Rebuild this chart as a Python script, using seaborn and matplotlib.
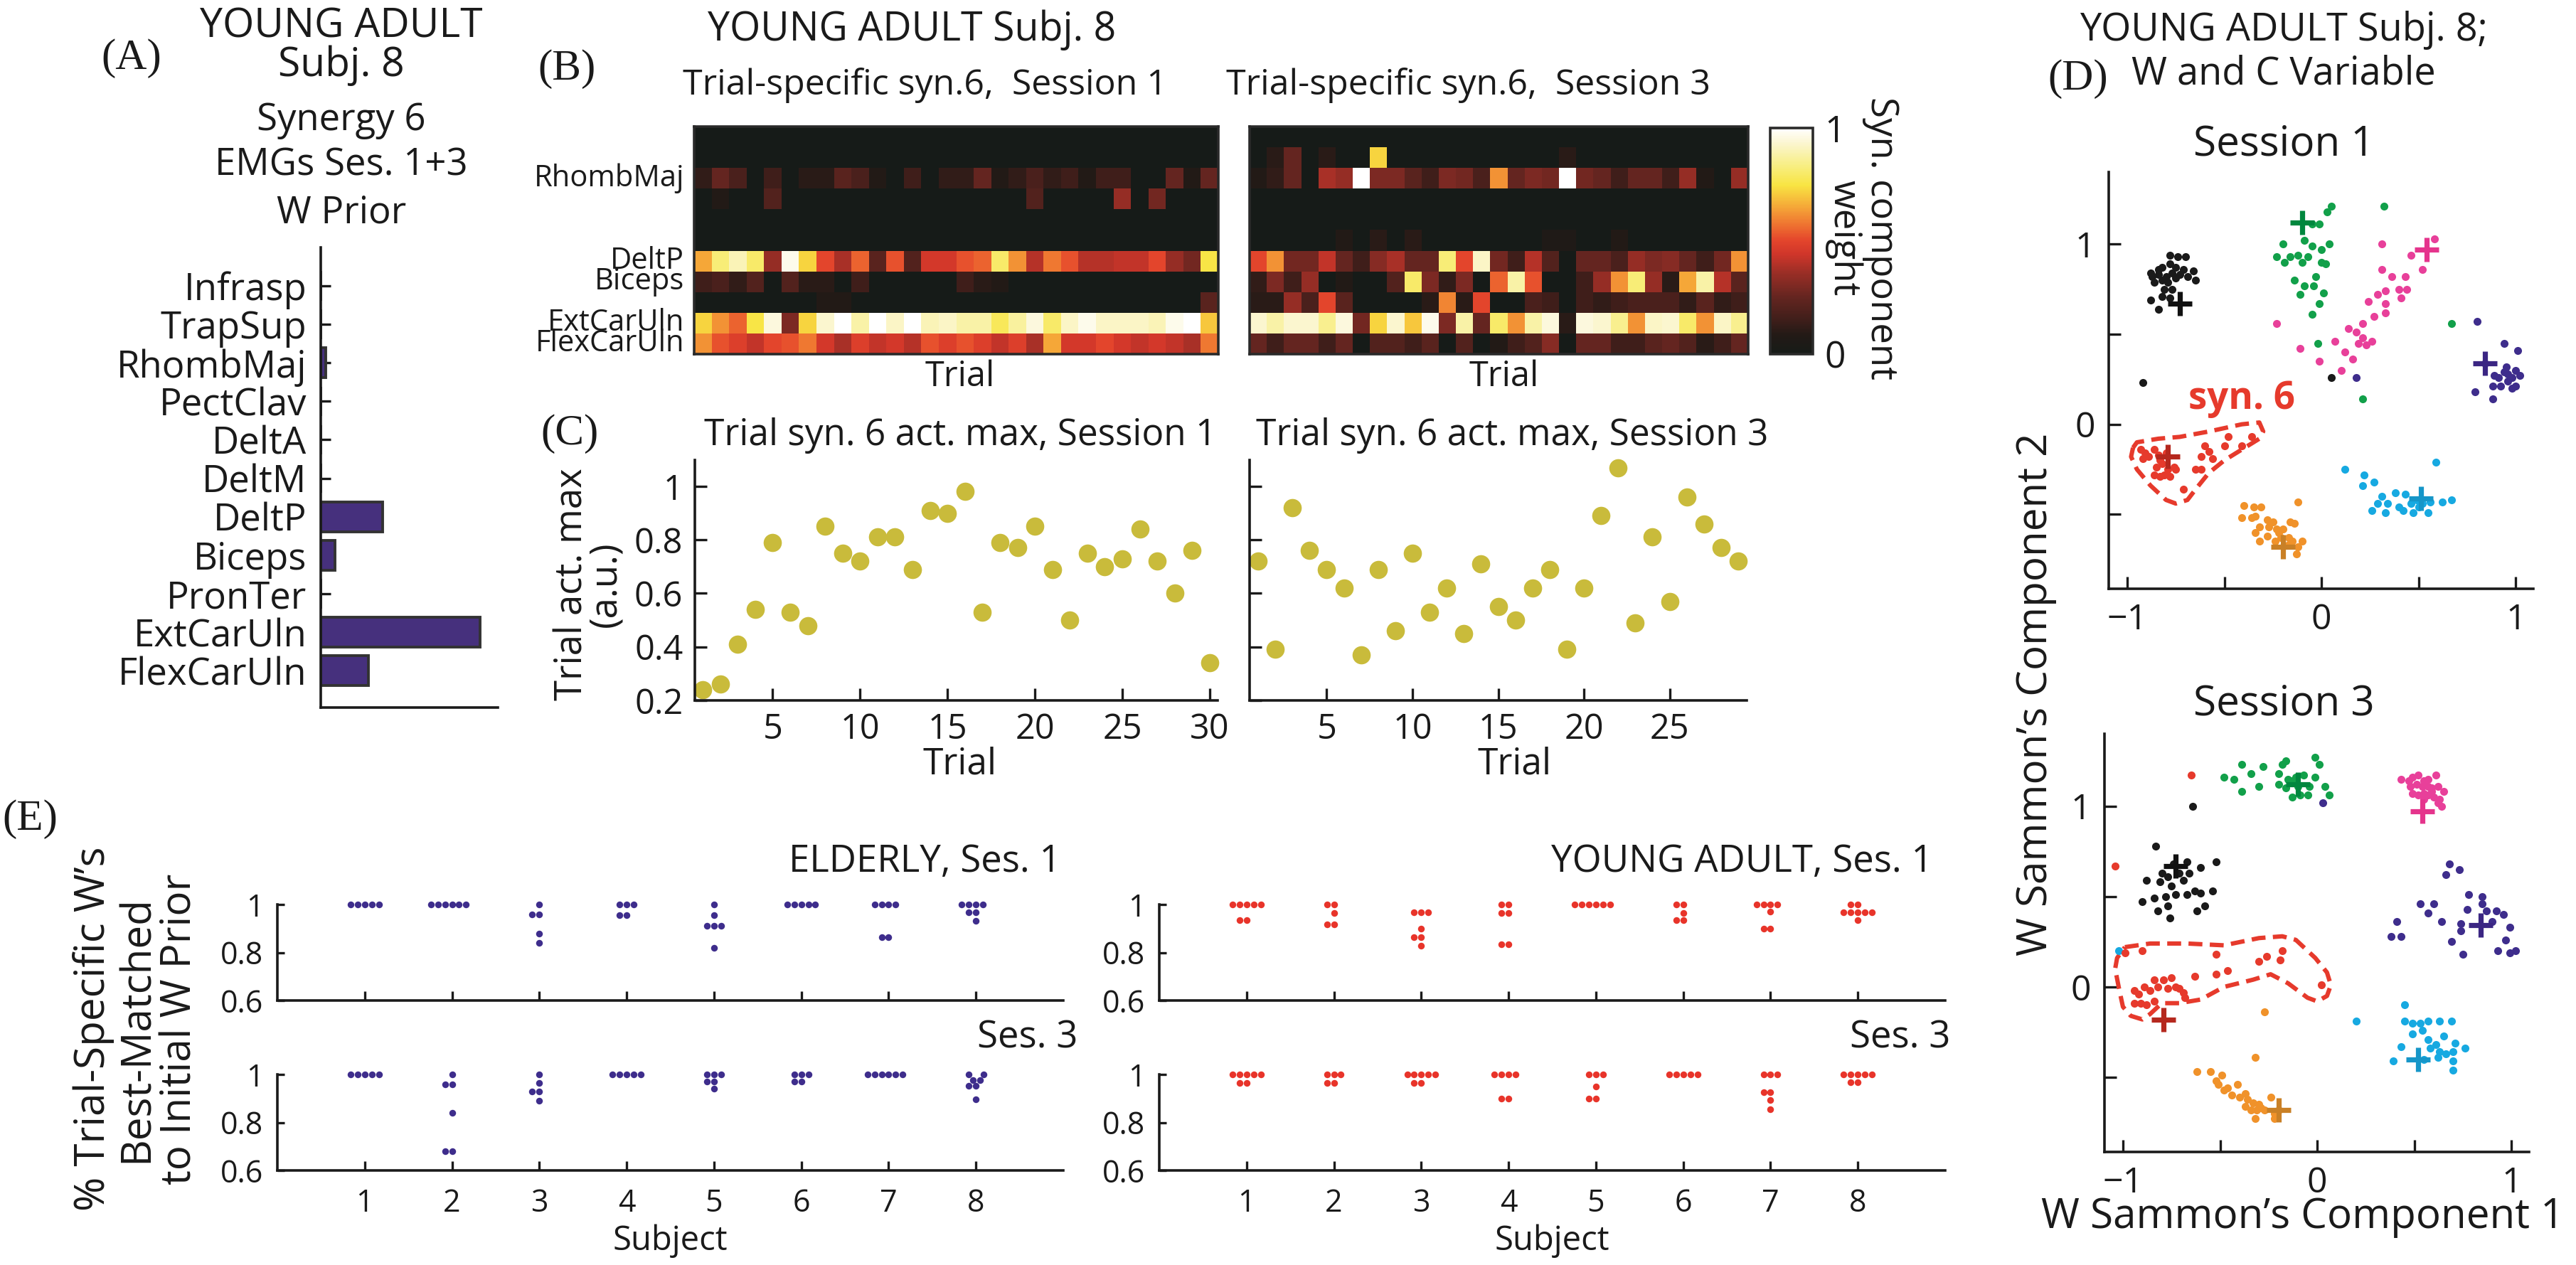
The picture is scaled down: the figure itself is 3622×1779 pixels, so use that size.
import numpy as np
import pandas as pd
import matplotlib
matplotlib.use("Agg")
import matplotlib.pyplot as plt
import seaborn as sns
from matplotlib.colors import LinearSegmentedColormap

# ---------------- DATA ----------------
MUSCLES = ["Infrasp", "TrapSup", "RhombMaj", "PectClav", "DeltA", "DeltM",
           "DeltP", "Biceps", "PronTer", "ExtCarUln", "FlexCarUln"]
W_PRIOR = [0.0, 0.0, 0.03, 0.0, 0.0, 0.0, 0.35, 0.08, 0.0, 0.90, 0.27]
HEAT_LABELS = ["", "", "RhombMaj", "", "", "", "DeltP", "Biceps", "", "ExtCarUln", "FlexCarUln"]

# trial-specific synergy 6, session 1 (11 muscles x 30 trials)
HEAT_S1 = [
    [0, 0, 0, 0, 0, 0, 0, 0, 0, 0, 0, 0, 0, 0, 0, 0, 0, 0, 0, 0, 0, 0, 0, 0, 0, 0, 0, 0, 0, 0],
    [0, 0, 0, 0, 0, 0, 0, 0, 0, 0, 0, 0, 0, 0, 0, 0, 0, 0, 0, 0, 0, 0, 0, 0, 0, 0, 0, 0, 0, 0],
    [0.12, 0.25, 0.18, 0, 0.15, 0, 0.1, 0.1, 0.22, 0.18, 0.08, 0, 0.15, 0, 0.12, 0.12, 0.25, 0.08, 0.12, 0.18,
     0.12, 0.15, 0.08, 0.15, 0.15, 0, 0, 0.25, 0.08, 0.25],
    [0, 0.08, 0, 0, 0.2, 0, 0, 0, 0, 0, 0, 0, 0, 0, 0, 0, 0, 0, 0, 0.2, 0, 0, 0, 0, 0.35, 0, 0.28, 0, 0, 0],
    [0, 0, 0, 0, 0, 0, 0, 0, 0, 0, 0, 0, 0, 0, 0, 0, 0, 0, 0, 0, 0, 0, 0, 0, 0, 0, 0, 0, 0, 0],
    [0, 0, 0, 0, 0, 0, 0, 0, 0, 0, 0, 0, 0, 0, 0, 0, 0, 0, 0, 0, 0, 0, 0, 0, 0, 0, 0, 0, 0, 0],
    [0.65, 0.82, 0.9, 0.8, 0.35, 0.97, 0.72, 0.5, 0.38, 0.55, 0.22, 0.52, 0.2, 0.45, 0.45, 0.52, 0.55, 0.8, 0.62, 0.4,
     0.58, 0.52, 0.4, 0.4, 0.42, 0.42, 0.5, 0.35, 0.28, 0.75],
    [0.15, 0.18, 0.12, 0.2, 0, 0.2, 0.1, 0.1, 0, 0.15, 0, 0, 0, 0, 0, 0.15, 0.1, 0.08, 0, 0,
     0, 0, 0, 0, 0, 0, 0, 0, 0, 0],
    [0, 0, 0, 0, 0, 0, 0, 0.08, 0.08, 0, 0, 0, 0, 0, 0, 0, 0, 0, 0, 0, 0, 0, 0, 0, 0, 0, 0, 0, 0, 0.22],
    [0.72, 0.62, 0.55, 0.75, 0.95, 0.3, 0.72, 0.93, 1.0, 0.88, 1.0, 0.92, 1.0, 0.9, 0.92, 0.88, 0.88, 0.78, 0.87, 0.95,
     0.8, 0.92, 0.97, 0.92, 0.92, 0.92, 0.9, 0.97, 1.0, 0.7],
    [0.62, 0.52, 0.48, 0.42, 0.5, 0.52, 0.58, 0.45, 0.38, 0.48, 0.42, 0.45, 0.4, 0.52, 0.48, 0.52, 0.48, 0.42, 0.48, 0.38,
     0.65, 0.45, 0.45, 0.5, 0.45, 0.42, 0.45, 0.42, 0.38, 0.58],
]

# trial-specific synergy 6, session 3 (11 muscles x 29 trials)
HEAT_S3 = [
    [0, 0, 0, 0, 0, 0, 0, 0, 0, 0, 0, 0, 0, 0, 0, 0, 0, 0, 0, 0, 0, 0, 0, 0, 0, 0, 0, 0, 0],
    [0, 0.1, 0.25, 0, 0.1, 0, 0, 0.72, 0, 0, 0, 0, 0, 0, 0, 0, 0, 0, 0.1, 0, 0, 0, 0, 0, 0, 0, 0, 0, 0],
    [0.08, 0.12, 0.25, 0, 0.38, 0.35, 1.0, 0.3, 0.3, 0.22, 0.15, 0.3, 0.28, 0.18, 0.62, 0.25, 0.3, 0.28, 1.0, 0.28,
     0.25, 0.15, 0.25, 0.25, 0.15, 0.35, 0.08, 0, 0.35],
    [0, 0, 0, 0, 0, 0, 0, 0, 0, 0, 0, 0, 0, 0, 0, 0, 0, 0, 0, 0, 0, 0, 0, 0, 0, 0, 0, 0, 0],
    [0, 0, 0, 0, 0, 0, 0, 0, 0, 0, 0, 0, 0, 0, 0, 0, 0, 0, 0, 0, 0, 0, 0, 0, 0, 0, 0, 0, 0],
    [0, 0, 0, 0, 0, 0.08, 0, 0.1, 0, 0.1, 0, 0, 0, 0, 0, 0, 0, 0.06, 0.06, 0, 0, 0.08, 0, 0, 0, 0, 0, 0, 0],
    [0.5, 0.62, 0.28, 0.28, 0.42, 0.25, 0.15, 0.32, 0.38, 0.25, 0.25, 0.82, 0.5, 0.92, 0.28, 0.15, 0.4, 0.2, 0, 0.25,
     0.25, 0.18, 0.35, 0.3, 0.32, 0.25, 0.15, 0.28, 0.62],
    [0.12, 0.3, 0.15, 0.35, 0, 0.08, 0, 0, 0.2, 0.8, 0.3, 0.12, 0.3, 0, 0.55, 0.88, 0.52, 0, 0, 0.15,
     0.35, 0.62, 0.82, 0.35, 0.1, 0.65, 0.88, 0.4, 0.22],
    [0.1, 0.1, 0.35, 0.18, 0.5, 0.22, 0, 0, 0, 0, 0.1, 0.6, 0.1, 0.5, 0, 0, 0.18, 0.15, 0, 0.15,
     0.12, 0.15, 0.18, 0.18, 0.18, 0.12, 0.22, 0.12, 0.15],
    [0.93, 0.88, 0.93, 0.93, 0.85, 0.95, 0.28, 0.72, 0.93, 0.7, 0.97, 0.3, 0.88, 0.25, 0.8, 0.62, 0.88, 0.95, 0.1, 0.95,
     0.93, 0.85, 0.62, 0.92, 0.93, 0.8, 0.62, 0.92, 0.85],
    [0.25, 0.15, 0.25, 0.25, 0.15, 0.25, 0, 0.2, 0.2, 0.15, 0.22, 0, 0.2, 0, 0.08, 0.15, 0.2, 0.32, 0, 0.25,
     0.25, 0.15, 0.15, 0.22, 0.25, 0.2, 0.1, 0.15, 0.25],
]

# trial activation max
TRIALS_S1 = list(range(1, 31))
ACT_S1 = [0.24, 0.26, 0.41, 0.54, 0.79, 0.53, 0.48, 0.85, 0.75, 0.72, 0.81, 0.81, 0.69, 0.91, 0.90,
          0.98, 0.53, 0.79, 0.77, 0.85, 0.69, 0.50, 0.75, 0.70, 0.73, 0.84, 0.72, 0.60, 0.76, 0.34]
TRIALS_S3 = list(range(1, 30))
ACT_S3 = [0.72, 0.39, 0.92, 0.76, 0.69, 0.62, 0.37, 0.69, 0.46, 0.75, 0.53, 0.62, 0.45, 0.71, 0.55,
          0.50, 0.62, 0.69, 0.39, 0.62, 0.89, 1.07, 0.49, 0.81, 0.57, 0.96, 0.86, 0.77, 0.72]

# Sammon projection, session 1 (x, y)
S1_BLACK = [(-0.78, 0.94), (-0.74, 0.93), (-0.70, 0.93), (-0.88, 0.84), (-0.84, 0.86), (-0.82, 0.87),
            (-0.78, 0.89), (-0.75, 0.87), (-0.71, 0.86), (-0.66, 0.85), (-0.87, 0.82), (-0.84, 0.83),
            (-0.80, 0.82), (-0.77, 0.84), (-0.73, 0.83), (-0.69, 0.82), (-0.65, 0.80), (-0.86, 0.79),
            (-0.82, 0.80), (-0.79, 0.79), (-0.75, 0.81), (-0.81, 0.75), (-0.77, 0.75), (-0.88, 0.69),
            (-0.82, 0.71), (-0.84, 0.64), (-0.78, 0.70), (-0.92, 0.23), (0.05, 0.26)]
S1_GREEN = [(0.05, 1.21), (0.03, 1.18), (0.32, 1.21), (-0.01, 1.11), (-0.05, 1.11), (-0.20, 1.00),
            (-0.09, 1.02), (-0.05, 0.99), (0.00, 0.97), (0.04, 1.00), (-0.23, 0.93), (-0.19, 0.90),
            (-0.16, 0.93), (-0.12, 0.94), (-0.07, 0.93), (-0.10, 0.90), (0.00, 0.90), (0.02, 0.89),
            (-0.14, 0.80), (-0.09, 0.77), (-0.03, 0.82), (-0.04, 0.77), (-0.11, 0.72), (0.01, 0.73),
            (-0.01, 0.67), (-0.05, 0.61), (0.67, 0.56), (-0.02, 0.45), (0.21, 0.14)]
S1_MAGENTA = [(0.58, 1.03), (0.46, 0.94), (0.52, 0.86), (0.31, 1.00), (0.31, 0.86), (0.36, 0.82),
              (0.43, 0.82), (0.40, 0.75), (0.44, 0.75), (0.41, 0.70), (0.29, 0.72), (0.33, 0.74),
              (0.24, 0.68), (0.33, 0.67), (0.27, 0.60), (0.33, 0.62), (0.21, 0.56), (0.14, 0.53),
              (0.18, 0.51), (0.21, 0.48), (0.19, 0.45), (0.23, 0.44), (0.26, 0.46), (0.07, 0.46),
              (0.12, 0.40), (0.16, 0.36), (0.10, 0.30), (-0.01, 0.35), (-0.11, 0.42), (-0.23, 0.56)]
S1_PURPLE = [(0.80, 0.57), (0.94, 0.45), (1.01, 0.41), (0.84, 0.34), (0.89, 0.27), (0.91, 0.26),
             (0.94, 0.29), (0.96, 0.28), (0.98, 0.26), (1.00, 0.30), (1.02, 0.27), (0.95, 0.32),
             (0.92, 0.21), (0.98, 0.20), (1.00, 0.21), (0.88, 0.21), (0.79, 0.18), (0.88, 0.14),
             (0.96, 0.24), (0.18, 0.26)]
S1_CYAN = [(0.12, -0.25), (0.59, -0.21), (0.22, -0.28), (0.27, -0.32), (0.21, -0.34), (0.31, -0.40),
           (0.29, -0.44), (0.34, -0.44), (0.38, -0.38), (0.43, -0.39), (0.40, -0.46), (0.46, -0.44),
           (0.49, -0.42), (0.52, -0.44), (0.56, -0.43), (0.55, -0.49), (0.47, -0.49), (0.42, -0.48),
           (0.26, -0.48), (0.33, -0.49), (0.62, -0.43), (0.67, -0.42), (0.50, -0.46)]
S1_ORANGE = [(-0.40, -0.45), (-0.35, -0.46), (-0.31, -0.46), (-0.12, -0.43), (-0.41, -0.52), (-0.36, -0.52),
             (-0.34, -0.51), (-0.28, -0.53), (-0.25, -0.54), (-0.16, -0.54), (-0.14, -0.55), (-0.32, -0.57),
             (-0.27, -0.57), (-0.23, -0.58), (-0.20, -0.58), (-0.34, -0.60), (-0.28, -0.62), (-0.22, -0.60),
             (-0.17, -0.63), (-0.32, -0.65), (-0.24, -0.65), (-0.21, -0.63), (-0.15, -0.65), (-0.10, -0.65),
             (-0.12, -0.68), (-0.17, -0.67), (-0.13, -0.72)]
S1_RED = [(-0.93, -0.14), (-0.91, -0.16), (-0.92, -0.19), (-0.89, -0.18), (-0.86, -0.14), (-0.84, -0.17),
          (-0.83, -0.20), (-0.80, -0.16), (-0.82, -0.22), (-0.85, -0.24), (-0.79, -0.25), (-0.76, -0.24),
          (-0.75, -0.25), (-0.81, -0.28), (-0.78, -0.29), (-0.86, -0.28), (-0.83, -0.29), (-0.60, -0.12),
          (-0.58, -0.15), (-0.62, -0.18), (-0.65, -0.25), (-0.62, -0.25), (-0.71, -0.36), (-0.56, -0.19),
          (-0.50, -0.12), (-0.48, -0.07), (-0.36, -0.07), (-0.41, -0.12)]
S1_PRIOR = [(-0.73, 0.67), (-0.10, 1.12), (0.54, 0.97), (0.84, 0.34), (0.51, -0.41), (-0.20, -0.68), (-0.79, -0.18)]
S1_OUTLINE = [(-0.97, -0.13), (-0.95, -0.10), (-0.84, -0.08), (-0.73, -0.07), (-0.58, -0.04), (-0.41, 0.00),
              (-0.32, 0.01), (-0.30, -0.04), (-0.32, -0.08), (-0.41, -0.14), (-0.50, -0.20), (-0.58, -0.27),
              (-0.64, -0.35), (-0.69, -0.42), (-0.75, -0.44), (-0.80, -0.42), (-0.88, -0.34), (-0.95, -0.25),
              (-0.98, -0.18), (-0.97, -0.13)]

# Sammon projection, session 3 (x, y)
S3_BLACK = [(-0.64, 1.00), (-0.83, 0.78), (-0.52, 0.69), (-0.74, 0.68), (-0.67, 0.69), (-0.80, 0.63),
            (-0.71, 0.63), (-0.66, 0.63), (-0.60, 0.66), (-0.88, 0.59), (-0.81, 0.58), (-0.77, 0.61),
            (-0.75, 0.56), (-0.69, 0.59), (-0.73, 0.51), (-0.67, 0.51), (-0.63, 0.53), (-0.60, 0.52),
            (-0.54, 0.53), (-0.84, 0.49), (-0.78, 0.50), (-0.90, 0.47), (-0.77, 0.45), (-0.58, 0.45),
            (-0.82, 0.42), (-0.62, 0.42), (-0.76, 0.38)]
S3_GREEN = [(-0.48, 1.16), (-0.43, 1.15), (-0.39, 1.08), (-0.39, 1.23), (-0.34, 1.18), (-0.30, 1.11),
            (-0.28, 1.22), (-0.20, 1.18), (-0.18, 1.23), (-0.16, 1.25), (-0.15, 1.15), (-0.20, 1.12),
            (-0.16, 1.10), (-0.13, 1.05), (-0.11, 1.16), (-0.09, 1.06), (-0.07, 1.17), (-0.05, 1.06),
            (-0.04, 1.11), (-0.01, 1.16), (-0.01, 1.27), (0.01, 1.23), (0.04, 1.11), (0.06, 1.06),
            (-0.13, 1.14), (-0.10, 1.11)]
S3_MAGENTA = [(0.43, 1.15), (0.47, 1.14), (0.49, 1.16), (0.52, 1.17), (0.55, 1.14), (0.57, 1.15),
              (0.61, 1.17), (0.48, 1.11), (0.51, 1.12), (0.54, 1.11), (0.57, 1.11), (0.59, 1.10),
              (0.62, 1.11), (0.65, 1.08), (0.49, 1.07), (0.52, 1.06), (0.55, 1.07), (0.57, 1.06),
              (0.60, 1.05), (0.63, 1.04), (0.62, 1.02), (0.64, 1.00), (0.59, 1.08), (0.55, 1.04)]
S3_PURPLE = [(0.68, 0.68), (0.73, 0.65), (0.66, 0.62), (0.53, 0.46), (0.60, 0.46), (0.57, 0.41),
             (0.64, 0.36), (0.41, 0.36), (0.38, 0.28), (0.43, 0.28), (0.69, 0.25), (0.75, 0.18),
             (0.78, 0.51), (0.85, 0.50), (0.85, 0.46), (0.77, 0.43), (0.87, 0.42), (0.92, 0.42),
             (0.96, 0.40), (0.90, 0.36), (0.74, 0.35), (0.74, 0.31), (0.99, 0.33), (0.97, 0.26),
             (0.93, 0.20), (0.99, 0.19), (1.02, 0.20), (0.03, 1.02)]
S3_CYAN = [(0.45, -0.10), (0.20, -0.19), (0.45, -0.19), (0.49, -0.20), (0.53, -0.20), (0.57, -0.19),
           (0.63, -0.19), (0.69, -0.19), (0.54, -0.24), (0.49, -0.26), (0.57, -0.29), (0.65, -0.27),
           (0.61, -0.32), (0.71, -0.31), (0.43, -0.33), (0.58, -0.34), (0.63, -0.36), (0.66, -0.37),
           (0.70, -0.36), (0.76, -0.34), (0.62, -0.39), (0.70, -0.41), (0.39, -0.41), (0.70, -0.46),
           (-1.02, 0.20), (0.55, -0.40)]
S3_ORANGE = [(-0.27, -0.14), (-0.32, -0.39), (-0.62, -0.47), (-0.55, -0.47), (-0.49, -0.49), (-0.52, -0.52),
             (-0.51, -0.54), (-0.48, -0.57), (-0.46, -0.56), (-0.41, -0.54), (-0.44, -0.60), (-0.40, -0.61),
             (-0.37, -0.59), (-0.36, -0.62), (-0.37, -0.66), (-0.33, -0.64), (-0.34, -0.68), (-0.30, -0.65),
             (-0.29, -0.67), (-0.27, -0.68), (-0.24, -0.61), (-0.22, -0.70), (-0.22, -0.73), (-0.32, -0.73),
             (-0.31, -0.68), (-0.20, -0.68)]
S3_RED = [(-0.65, 1.17), (-1.04, 0.67), (-0.99, 0.19), (-0.90, 0.20), (-0.94, -0.02), (-0.92, -0.04),
          (-0.89, 0.00), (-0.86, -0.02), (-0.84, 0.04), (-0.82, 0.00), (-0.79, 0.04), (-0.77, -0.01),
          (-0.75, 0.05), (-0.73, 0.00), (-0.71, -0.01), (-0.69, -0.03), (-0.68, -0.06), (-0.94, -0.09),
          (-0.91, -0.09), (-0.88, -0.10), (-0.84, -0.08), (-0.52, 0.18), (-0.63, 0.06), (-0.52, 0.07),
          (-0.46, 0.09), (-0.30, 0.14), (-0.26, 0.17), (-0.19, 0.15), (-0.18, 0.20), (0.02, 0.01)]
S3_PRIOR = [(-0.73, 0.67), (-0.10, 1.12), (0.54, 0.97), (0.84, 0.34), (0.52, -0.40), (-0.20, -0.68), (-0.79, -0.18)]
S3_OUTLINE = [(-0.99, 0.22), (-0.86, 0.24), (-0.67, 0.24), (-0.48, 0.23), (-0.30, 0.27), (-0.18, 0.28),
              (-0.11, 0.26), (-0.01, 0.16), (0.05, 0.08), (0.07, 0.01), (0.05, -0.05), (0.00, -0.08),
              (-0.05, -0.06), (-0.15, 0.02), (-0.24, 0.07), (-0.33, 0.04), (-0.48, 0.00), (-0.60, -0.07),
              (-0.71, -0.09), (-0.80, -0.09), (-0.86, -0.15), (-0.90, -0.18), (-0.96, -0.16), (-1.00, -0.11),
              (-1.02, -0.01), (-1.04, 0.10), (-1.03, 0.16), (-0.99, 0.22)]

# fraction of trial-specific W's best-matched to initial W prior, per subject
SUBJECTS = [1, 2, 3, 4, 5, 6, 7, 8]
ELD_S1 = [[1, 1, 1, 1, 1], [1, 1, 1, 1, 1, 1], [1.0, 0.96, 0.96, 0.88, 0.84], [1, 1, 1, 0.955, 0.955],
          [1.0, 0.955, 0.91, 0.91, 0.91, 0.82], [1, 1, 1, 1, 1], [1, 1, 1, 1, 0.865, 0.865],
          [1, 1, 1, 1, 0.967, 0.967, 0.933]]
ELD_S3 = [[1, 1, 1, 1, 1], [1.0, 0.96, 0.96, 0.84, 0.68, 0.68], [1.0, 0.965, 0.93, 0.93, 0.89],
          [1, 1, 1, 1, 1], [1, 1, 1, 0.97, 0.97, 0.94], [1, 1, 1, 0.97, 0.97], [1, 1, 1, 1, 1, 1],
          [1, 1, 0.977, 0.977, 0.952, 0.952, 0.897]]
YA_S1 = [[1, 1, 1, 1, 1, 0.935, 0.935], [1, 1, 0.965, 0.918, 0.918],
         [0.967, 0.967, 0.967, 0.9, 0.865, 0.865, 0.827], [1, 1, 0.965, 0.965, 0.835, 0.835],
         [1, 1, 1, 1, 1, 1], [1, 1, 0.965, 0.935, 0.935], [1, 1, 1, 1, 0.97, 0.9, 0.9],
         [1, 1, 0.967, 0.967, 0.967, 0.967, 0.967, 0.935]]
YA_S3 = [[1, 1, 1, 1, 1, 0.965, 0.965], [1, 1, 1, 0.965, 0.965], [1, 1, 1, 1, 1, 0.965, 0.965],
         [1, 1, 1, 1, 0.9, 0.9], [1, 1, 1, 0.95, 0.9, 0.9], [1, 1, 1, 1, 1],
         [1, 1, 1, 0.927, 0.927, 0.893, 0.855], [1, 1, 1, 1, 1, 0.967, 0.967]]

# ---------------- STYLE ----------------
W, H, DPI = 3622, 1779, 200
sns.set_theme(style="ticks")
plt.rcParams["font.family"] = ["Open Sans", "DejaVu Sans"]
plt.rcParams["axes.linewidth"] = 1.3
plt.rcParams["axes.edgecolor"] = "#1a1a1a"
plt.rcParams["xtick.direction"] = "in"
plt.rcParams["ytick.direction"] = "in"
plt.rcParams["xtick.color"] = "#1a1a1a"
plt.rcParams["ytick.color"] = "#1a1a1a"
SERIF = ["Liberation Serif", "DejaVu Serif"]

fig = plt.figure(figsize=(W / DPI, H / DPI), dpi=DPI, facecolor="white")


def add_ax(x0, y0, x1, y1):
    return fig.add_axes([x0 / W, 1 - y1 / H, (x1 - x0) / W, (y1 - y0) / H])


def ftext(x, y, s, size=18, **kw):
    kw.setdefault("ha", "center")
    kw.setdefault("va", "center")
    fig.text(x / W, 1 - y / H, s, fontsize=size, color="#1a1a1a", **kw)


# ---------------- (A) W prior ----------------
axA = add_ax(451, 348, 700, 995)
sns.barplot(x=W_PRIOR, y=MUSCLES, orient="h", color="#46307d", saturation=1,
            edgecolor="#333333", linewidth=1.4, width=0.77, ax=axA)
axA.set_xlim(0, 1)
axA.set_ylim(10.96, -1.0)
axA.set_xticks([])
axA.set_xlabel("")
axA.set_ylabel("")
axA.tick_params(axis="y", length=5, width=1.2, labelsize=19, pad=7)
sns.despine(ax=axA)

ftext(185, 82, "(A)", size=22, family=SERIF)
ftext(480, 38, "YOUNG ADULT", size=20.5)
ftext(480, 92, "Subj. 8", size=20.5)
ftext(480, 169, "Synergy 6", size=19)
ftext(480, 233, "EMGs Ses. 1+3", size=19)
ftext(480, 300, "W Prior", size=19)

# ---------------- (B) heatmaps ----------------
cmap = LinearSegmentedColormap.from_list("synw", [
    (0.0, "#161b18"), (0.084, "#231a16"), (0.147, "#3e1e1a"), (0.253, "#652520"),
    (0.358, "#9a2e26"), (0.442, "#d0362a"), (0.505, "#e4462c"), (0.568, "#ee7030"),
    (0.653, "#f5a838"), (0.747, "#f8e442"), (0.832, "#f8ee80"), (0.937, "#fbf6d2"),
    (1.0, "#ffffff")])

axB1 = add_ax(976, 178, 1713, 498)
axB2 = add_ax(1757, 178, 2458, 498)
cax = add_ax(2489, 180, 2549, 498)
sns.heatmap(pd.DataFrame(HEAT_S1, index=MUSCLES), cmap=cmap, vmin=0, vmax=1, cbar=False,
            xticklabels=False, yticklabels=HEAT_LABELS, ax=axB1)
sns.heatmap(pd.DataFrame(HEAT_S3, index=MUSCLES), cmap=cmap, vmin=0, vmax=1, cbar=True,
            cbar_ax=cax, xticklabels=False, yticklabels=False, ax=axB2)
for ax, n in ((axB1, 30), (axB2, 29)):
    for sp in ax.spines.values():
        sp.set_visible(True)
        sp.set_color("#2a2a2a")
        sp.set_linewidth(1.3)
    ax.set_xticks([t - 0.5 for t in range(5, n + 1, 5)])
    ax.set_xticklabels([])
    ax.tick_params(axis="x", length=4, top=True, bottom=True, color="#555555")
    ax.set_ylabel("")
axB1.tick_params(axis="y", length=0, labelsize=15, pad=5, rotation=0)
cbar = axB2.collections[0].colorbar
cbar.set_ticks([0, 1])
cbar.set_ticklabels(["0", "1"])
cbar.ax.tick_params(labelsize=18.5, length=0, pad=6)
cbar.outline.set_edgecolor("#2a2a2a")
cbar.outline.set_linewidth(1.3)

ftext(797, 97, "(B)", size=22, family=SERIF)
ftext(1282, 42, "YOUNG ADULT Subj. 8", size=20)
ftext(1300, 120, "Trial-specific syn.6,  Session 1", size=18)
ftext(2065, 120, "Trial-specific syn.6,  Session 3", size=18)
ftext(1350, 530, "Trial", size=17.5)
ftext(2115, 530, "Trial", size=17.5)
ftext(2645, 335, "Syn. component", size=19, rotation=270)
ftext(2592, 335, "weight", size=19, rotation=270)

# ---------------- (C) activation max ----------------
axC1 = add_ax(977, 647, 1712, 985)
axC2 = add_ax(1757, 647, 2456, 985)
sns.scatterplot(x=TRIALS_S1, y=ACT_S1, color="#c9bb3b", s=85, linewidth=0, ax=axC1, clip_on=False)
sns.scatterplot(x=TRIALS_S3, y=ACT_S3, color="#c9bb3b", s=85, linewidth=0, ax=axC2, clip_on=False)
axC1.set_xlim(0.55, 30.45)
axC2.set_xlim(0.5, 29.5)
for ax, n in ((axC1, 30), (axC2, 29)):
    ax.set_ylim(0.2, 1.098)
    ax.set_xticks(list(range(5, n + 1, 5)))
    ax.set_yticks([0.2, 0.4, 0.6, 0.8, 1.0])
    ax.tick_params(length=6, width=1.2, labelsize=17.5, pad=6)
    sns.despine(ax=ax)
axC1.set_yticklabels(["0.2", "0.4", "0.6", "0.8", "1"])
axC2.set_yticklabels([])

ftext(801, 610, "(C)", size=22, family=SERIF)
ftext(1350, 613, "Trial syn. 6 act. max, Session 1", size=18.5)
ftext(2126, 613, "Trial syn. 6 act. max, Session 3", size=18.5)
ftext(1350, 1075, "Trial", size=18.5)
ftext(2130, 1075, "Trial", size=18.5)
ftext(805, 822, "Trial act. max", size=19, rotation=90)
ftext(852, 822, "(a.u.)", size=19, rotation=90)

# ---------------- (D) Sammon maps ----------------
DOT_COLORS = ["#1a1a1a", "#12a04a", "#e8409a", "#3e2d8c", "#17a9e1", "#f0922a", "#e63a2c"]
PLUS_COLORS = ["#111111", "#00873e", "#e5348c", "#3b2683", "#1696c8", "#c98026", "#b5281e"]

axD1 = add_ax(2965, 242, 3562, 828)
axD2 = add_ax(2959, 1032, 3556, 1620)
sessions = [
    (axD1, [S1_BLACK, S1_GREEN, S1_MAGENTA, S1_PURPLE, S1_CYAN, S1_ORANGE, S1_RED], S1_PRIOR, S1_OUTLINE),
    (axD2, [S3_BLACK, S3_GREEN, S3_MAGENTA, S3_PURPLE, S3_CYAN, S3_ORANGE, S3_RED], S3_PRIOR, S3_OUTLINE),
]
for ax, clusters, prior, outline in sessions:
    for pts, col in zip(clusters, DOT_COLORS):
        sns.scatterplot(x=[p[0] for p in pts], y=[p[1] for p in pts], color=col, s=16,
                        linewidth=0, ax=ax, zorder=3)
    ax.plot([p[0] for p in outline], [p[1] for p in outline], color="#e63a2c", lw=2.2,
            linestyle=(0, (3.2, 1.7)), zorder=2)
    for (px, py), col in zip(prior, PLUS_COLORS):
        ax.scatter([px], [py], marker="+", s=150, color=col, linewidths=2.6, zorder=4)
    ax.set_xlim(-1.095, 1.09)
    ax.set_ylim(-0.913, 1.40)
    ax.set_xticks([-1, -0.5, 0, 0.5, 1])
    ax.set_xticklabels(["\u22121", "", "0", "", "1"])
    ax.set_yticks([-0.5, 0, 0.5, 1])
    ax.set_yticklabels(["", "0", "", "1"])
    ax.tick_params(length=6, width=1.2, labelsize=18, pad=7)
    sns.despine(ax=ax)
axD1.text(-0.41, 0.14, "syn. 6", color="#e63a2c", fontsize=19, fontweight="bold",
          ha="center", va="center")

ftext(2922, 111, "(D)", size=22, family=SERIF)
ftext(3211, 42, "YOUNG ADULT Subj. 8;", size=19.5)
ftext(3211, 104, "W and C Variable", size=19.5)
ftext(3211, 203, "Session 1", size=21)
ftext(3211, 990, "Session 3", size=21)
ftext(3238, 1712, "W Sammon\u2019s Component 1", size=21)
ftext(2863, 976, "W Sammon\u2019s Component 2", size=21, rotation=90)

# ---------------- (E) best-matched fractions ----------------
def swarm(ax, groups, color, labels):
    subj = [s for s, g in zip(SUBJECTS, groups) for _ in g]
    vals = [v for g in groups for v in g]
    df = pd.DataFrame({"subject": subj, "value": vals})
    sns.swarmplot(data=df, x="subject", y="value", order=SUBJECTS, color=color, size=3.4,
                  linewidth=0, ax=ax)
    for c in ax.collections:
        c.set_clip_on(False)
    ax.set_xlim(-1, 8)
    ax.set_ylim(0.6, 1.0)
    ax.set_yticks([0.6, 0.8, 1.0])
    ax.set_yticklabels(["0.6", "0.8", "1"])
    ax.set_xlabel("")
    ax.set_ylabel("")
    ax.tick_params(axis="x", length=13 / 2.78, width=1.2, labelsize=15.5, pad=9)
    ax.tick_params(axis="y", length=10 / 2.78, width=1.2, labelsize=15.5, pad=7)
    if not labels:
        ax.set_xticklabels([])
    sns.despine(ax=ax)


axE_tl = add_ax(390, 1272, 1495, 1407)
axE_bl = add_ax(390, 1511, 1495, 1646)
axE_tr = add_ax(1630, 1272, 2735, 1407)
axE_br = add_ax(1630, 1511, 2735, 1646)
swarm(axE_tl, ELD_S1, "#3e2d8c", False)
swarm(axE_bl, ELD_S3, "#3e2d8c", True)
swarm(axE_tr, YA_S1, "#e8342a", False)
swarm(axE_br, YA_S3, "#e8342a", True)

ftext(42, 1152, "(E)", size=22, family=SERIF)
ftext(1492, 1212, "ELDERLY, Ses. 1", size=19, ha="right")
ftext(1515, 1460, "Ses. 3", size=19, ha="right")
ftext(2718, 1212, "YOUNG ADULT, Ses. 1", size=19, ha="right")
ftext(2742, 1460, "Ses. 3", size=19, ha="right")
ftext(942, 1745, "Subject", size=17)
ftext(2182, 1745, "Subject", size=17)
ftext(192, 1447, "% Trial-Specific W\u2019s\nBest-Matched\nto Initial W Prior", size=21,
      rotation=90, linespacing=1.05, multialignment="center")

fig.savefig("out.png", dpi=DPI, facecolor="white")
